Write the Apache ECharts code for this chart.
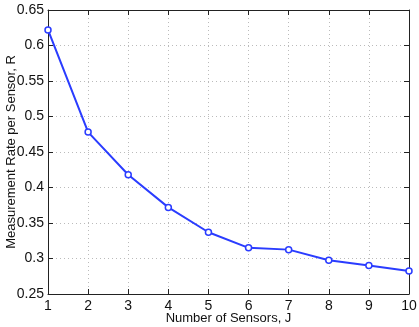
<!DOCTYPE html>
<html>
<head>
<meta charset="utf-8">
<script src="https://cdn.jsdelivr.net/npm/echarts@6/dist/echarts.min.js"></script>
<style>
  html, body { margin: 0; padding: 0; background: #fff; }
  #chart { width: 419px; height: 327px; }
</style>
</head>
<body>
<div id="chart"></div>
<script>
// data
const sensors = [1, 2, 3, 4, 5, 6, 7, 8, 9, 10];
const rate = [0.622, 0.478, 0.418, 0.372, 0.337, 0.315, 0.3125, 0.2975, 0.290, 0.2825];

const font = 'Liberation Sans, Arial, sans-serif';
const lineColor = '#2a3cff';

const chart = echarts.init(document.getElementById('chart'));

const tickStyle = { inside: true, length: 5, lineStyle: { color: '#222' } };
const axisLineStyle = { lineStyle: { color: '#222', width: 1 } };

chart.setOption({
  animation: false,
  grid: { left: 48, right: 10, top: 10, bottom: 33, outerBoundsMode: 'none' },
  xAxis: [
    {
      type: 'value', min: 1, max: 10, interval: 1,
      name: 'Number of Sensors, J', nameLocation: 'middle', nameGap: 18,
      nameMoveOverlap: false,
      nameTextStyle: { fontFamily: font, fontSize: 13, color: '#111' },
      axisLine: axisLineStyle,
      axisTick: tickStyle,
      axisLabel: { fontFamily: font, fontSize: 14, color: '#111', margin: 5 },
      splitLine: { show: true, lineStyle: { color: '#bbb', type: [1, 3] } }
    },
    {
      type: 'value', min: 1, max: 10, interval: 1, position: 'top',
      axisLine: axisLineStyle, axisTick: tickStyle,
      axisLabel: { show: false }, splitLine: { show: false }
    }
  ],
  yAxis: [
    {
      type: 'value', min: 0.25, max: 0.65, interval: 0.05,
      name: 'Measurement Rate per Sensor, R', nameLocation: 'middle', nameGap: 30,
      nameMoveOverlap: false,
      nameTextStyle: { fontFamily: font, fontSize: 13, color: '#111' },
      axisLine: { show: true, lineStyle: { color: '#222', width: 1 } },
      axisTick: { show: true, inside: true, length: 5, lineStyle: { color: '#222' } },
      axisLabel: { fontFamily: font, fontSize: 14, color: '#111', margin: 4,
        formatter: v => String(+v.toFixed(2)) },
      splitLine: { show: true, lineStyle: { color: '#bbb', type: [1, 3] } }
    },
    {
      type: 'value', min: 0.25, max: 0.65, interval: 0.05, position: 'right',
      axisLine: { show: true, lineStyle: { color: '#222', width: 1 } },
      axisTick: { show: true, inside: true, length: 5, lineStyle: { color: '#222' } },
      axisLabel: { show: false }, splitLine: { show: false }
    }
  ],
  series: [{
    type: 'line',
    data: sensors.map((s, i) => [s, rate[i]]),
    symbol: 'circle', symbolSize: 6,
    lineStyle: { color: lineColor, width: 2 },
    itemStyle: { color: '#fff', borderColor: lineColor, borderWidth: 1.5 }
  }]
});
</script>
</body>
</html>
